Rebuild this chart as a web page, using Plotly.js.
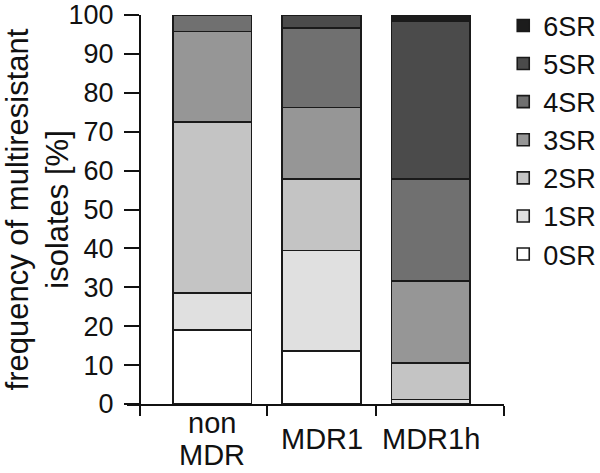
<!DOCTYPE html>
<html>
<head>
<meta charset="utf-8">
<script src="https://cdn.plot.ly/plotly-3.0.1.min.js"></script>
<style>
  html, body { margin: 0; padding: 0; background: white; }
  #chart { width: 600px; height: 473px; }
</style>
</head>
<body>
<div id="chart"></div>
<script>
// Groups on the x axis, label lines as in the figure
const groups = ['non MDR', 'MDR1', 'MDR1h'];
const groupLines = [['non', 'MDR'], ['MDR1'], ['MDR1h']];

// Resistance classes (stacked bottom to top)
const classes = ['0SR', '1SR', '2SR', '3SR', '4SR', '5SR', '6SR'];
const classColors = ['#ffffff', '#e0e0e0', '#c4c4c4', '#969696', '#707070', '#4b4b4b', '#1c1c1c'];

// Frequency [%] per class, one value per group
const sr0 = [19.0, 13.6, 0.0];
const sr1 = [9.5, 25.9, 1.2];
const sr2 = [44.0, 18.3, 9.4];
const sr3 = [23.3, 18.4, 21.0];
const sr4 = [4.2, 20.4, 26.3];
const sr5 = [0.0, 3.4, 40.6];
const sr6 = [0.0, 0.0, 1.5];
const values = [sr0, sr1, sr2, sr3, sr4, sr5, sr6];

// Tick marks under the x axis (axis ends and group boundaries)
const xTickMarks = [-0.66, 0.5, 1.5, 2.67];
const yTicks = [0, 10, 20, 30, 40, 50, 60, 70, 80, 90, 100];

const xPos = groups.map((g, i) => i);

const traces = classes.map((name, k) => ({
    type: 'bar',
    name: name,
    x: xPos,
    y: values[k],
    width: 0.72,
    marker: {
        color: classColors[k],
        line: { color: '#1a1a1a', width: 1.6 }
    },
    hoverinfo: 'name+y'
}));

// Category labels under the axis, one annotation per text line
const lineGap = 32;
const annotations = [];
groupLines.forEach((lines, i) => {
    lines.forEach((txt, j) => {
        annotations.push({
            text: txt,
            x: i,
            xref: 'x',
            y: -0.09,
            yref: 'paper',
            yanchor: 'middle',
            yshift: -((j - (lines.length - 1) / 2) * lineGap),
            showarrow: false,
            font: { size: 29, color: '#111' }
        });
    });
});

const layout = {
    width: 600,
    height: 473,
    barmode: 'stack',
    bargap: 0,
    margin: { l: 127, r: 96, t: 15, b: 69, autoexpand: false },
    paper_bgcolor: 'white',
    plot_bgcolor: 'white',
    font: { family: 'Liberation Sans, Arial, sans-serif', color: '#111' },
    xaxis: {
        type: 'linear',
        range: [-0.78, 2.67],
        tickmode: 'array',
        tickvals: xTickMarks,
        ticktext: xTickMarks.map(() => ''),
        ticks: 'outside',
        ticklen: 10,
        tickwidth: 2,
        tickcolor: '#111',
        showline: true,
        linecolor: '#111',
        linewidth: 2,
        showgrid: false,
        zeroline: false,
        fixedrange: true
    },
    yaxis: {
        range: [0, 100],
        anchor: 'free',
        position: 13 / 377,
        tickmode: 'array',
        tickvals: yTicks,
        ticks: 'outside',
        ticklen: 15,
        tickwidth: 2,
        tickcolor: '#111',
        tickfont: { size: 27, color: '#111' },
        ticklabelstandoff: 5,
        showline: true,
        linecolor: '#111',
        linewidth: 2,
        showgrid: false,
        zeroline: false,
        title: {
            text: 'frequency of multiresistant<br>isolates [%]',
            font: { size: 31, color: '#111' },
            standoff: 0
        },
        fixedrange: true
    },
    legend: {
        x: 0.998,
        xanchor: 'left',
        y: 1.035,
        yanchor: 'top',
        maxheight: 440,
        traceorder: 'reversed',
        font: { size: 27, color: '#111' },
        bgcolor: 'rgba(0,0,0,0)'
    },
    annotations: annotations,
    showlegend: true
};

Plotly.newPlot('chart', traces, layout, { displayModeBar: false, staticPlot: true });
</script>
</body>
</html>
